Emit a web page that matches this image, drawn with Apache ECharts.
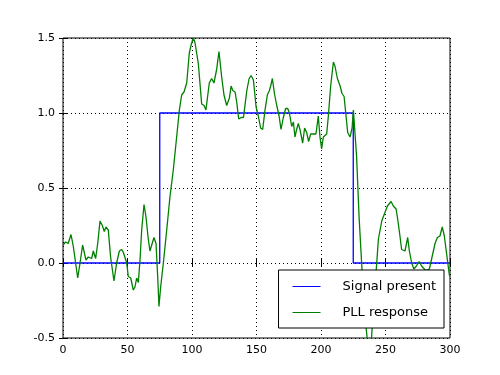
<!DOCTYPE html>
<html>
<head>
<meta charset="utf-8">
<script src="https://cdn.jsdelivr.net/npm/echarts@6/dist/echarts.min.js"></script>
<style>html,body{margin:0;padding:0;background:#fff}#c{width:500px;height:375px}</style>
</head>
<body>
<div id="c"></div>
<script>
var seriesNames = ['Signal present', 'PLL response'];
var xTicks = [0, 50, 100, 150, 200, 250, 300];
var yTicks = [-0.5, 0.0, 0.5, 1.0, 1.5];
var signalT = [0, 75, 225, 300];
var signalV = [0, 1, 0, 0];
var pllT = [0,2,4,6.2,8,11.4,13.2,15.2,17.8,19.6,20.9,22.2,23.5,25.3,26.9,28.7,30.5,32,33.3,35.1,36.9,39.5,41.6,43.7,45.5,46.8,48.1,49.4,50.6,52.5,54.5,55.8,57.1,58.4,59.7,61,62.8,64.3,66.1,67.4,68.7,70.5,72.1,73.4,74.4,75.7,77.8,80.4,82.9,85.5,88.1,90.2,92,93.8,95.9,97.9,99.5,101,102.3,104.9,107.5,109.3,110.8,113.4,115.2,117,119.1,120.9,123,124.8,126.9,129,130.3,131.6,133.4,134.7,136.2,138.1,139.9,141.2,142.5,144.3,145.8,147.6,149.7,151.4,153.2,154.8,156.6,158.4,160,161,162.3,163.9,165.7,167.5,169,170.8,172.6,174.2,175.5,177.3,178.6,179.8,181.1,182.4,183.7,185.8,187.3,188.9,190.4,192,194,196.1,197.9,199.2,200.5,201.8,203.1,204.4,205.7,207.5,209.6,210.9,212.7,214.8,216.3,217.9,219.4,220.7,222.5,224.1,225.1,226.1,227.6,229.5,231.5,234,236,237.5,239,241,243.2,244.5,247.1,249.7,251.5,253,254.3,256.1,258.2,259.5,261.2,262.5,263.8,265.1,267.2,268.5,270.3,272,274,276,278,281,284,286.6,288.4,290.2,292.2,294,295.6,297.4,299.5,300];
var pllV = [0.12,0.14,0.13,0.19,0.11,-0.10,0,0.12,0.02,0.04,0.05,0.03,0.08,0.03,0.13,0.28,0.25,0.21,0.24,0.22,0.04,-0.12,0,0.08,0.09,0.07,0.08,0,-0.09,-0.10,-0.18,-0.16,-0.10,-0.13,0.02,0.22,0.39,0.31,0.16,0.08,0.09,0.17,0.13,-0.09,-0.29,-0.16,0,0.22,0.44,0.62,0.84,1.02,1.12,1.14,1.2,1.40,1.46,1.5,1.47,1.33,1.06,1.05,1.02,1.2,1.23,1.2,1.29,1.41,1.24,1.12,1.05,1.1,1.18,1.15,1.14,1.07,0.96,0.97,0.97,0.98,1.15,1.23,1.25,1.22,1.04,0.98,0.9,0.89,1.02,1.12,1.15,1.18,1.23,1.13,1.05,0.98,0.89,0.97,1.03,1.03,1.0,0.91,0.94,0.84,0.89,0.93,0.89,0.80,0.9,0.87,0.81,0.86,0.86,0.86,0.98,0.84,0.76,0.84,0.83,0.86,0.98,1.18,1.34,1.31,1.23,1.18,1.13,1.11,0.98,0.87,0.84,0.9,1.02,1.01,0.71,0.31,0.0,-0.35,-0.52,-0.56,-0.52,-0.25,0,0.16,0.28,0.34,0.38,0.38,0.41,0.38,0.36,0.29,0.18,0.09,0.1,0.08,0.17,0.08,0,-0.04,-0.02,0.01,-0.02,-0.05,-0.04,0.06,0.13,0.17,0.18,0.24,0.18,0.06,-0.08,-0.09];

function pairs(a, b) { return a.map(function (v, i) { return [v, b[i]]; }); }

var font = 'DejaVu Sans';
var gridLine = { show: true, lineStyle: { color: '#000', type: [1, 3], width: 1 } };
var tickIn = { show: true, inside: true, length: 4, lineStyle: { color: '#000' } };

var chart = echarts.init(document.getElementById('c'), null, { renderer: 'canvas' });
chart.setOption({
  animation: false,
  backgroundColor: '#fff',
  grid: { left: 63, top: 38, right: 50, bottom: 37, show: true, borderColor: '#000', borderWidth: 1, backgroundColor: 'transparent' },
  xAxis: [
    { type: 'value', min: 0, max: 300, interval: 50, position: 'bottom',
      axisLine: { show: false }, axisTick: tickIn, splitLine: gridLine,
      axisLabel: { color: '#000', fontFamily: font, fontSize: 11, margin: 7 } },
    { type: 'value', min: 0, max: 300, interval: 50, position: 'top',
      axisLine: { show: false }, axisTick: tickIn, splitLine: { show: false }, axisLabel: { show: false } }
  ],
  yAxis: [
    { type: 'value', min: -0.5, max: 1.5, interval: 0.5, position: 'left',
      axisLine: { show: false }, axisTick: tickIn, splitLine: gridLine,
      axisLabel: { color: '#000', fontFamily: font, fontSize: 11, margin: 8,
        formatter: function (v) { return v.toFixed(1); } } },
    { type: 'value', min: -0.5, max: 1.5, interval: 0.5, position: 'right',
      axisLine: { show: false }, axisTick: tickIn, splitLine: { show: false }, axisLabel: { show: false } }
  ],
  legend: {
    right: 56, bottom: 47, orient: 'vertical',
    backgroundColor: '#fff', borderColor: '#000', borderWidth: 1, borderRadius: 0,
    padding: [10, 8, 9, 14], itemGap: 13, itemWidth: 28, itemHeight: 14,
    textStyle: { fontFamily: font, fontSize: 13, color: '#000', padding: [0, 0, 0, 17] },
    data: [
      { name: seriesNames[0], icon: 'path://M0,0L28,0L28,1L0,1Z' },
      { name: seriesNames[1], icon: 'path://M0,0L28,0L28,1L0,1Z' }
    ]
  },
  series: [
    { name: seriesNames[0], type: 'line', step: 'end', data: pairs(signalT, signalV),
      showSymbol: false, symbol: 'none', color: '#0000ff', lineStyle: { color: '#0000ff', width: 1.3 }, z: 3 },
    { name: seriesNames[1], type: 'line', data: pairs(pllT, pllV),
      showSymbol: false, symbol: 'none', color: '#008000', lineStyle: { color: '#008000', width: 1.3 }, z: 3 }
  ]
});
</script>
</body>
</html>
